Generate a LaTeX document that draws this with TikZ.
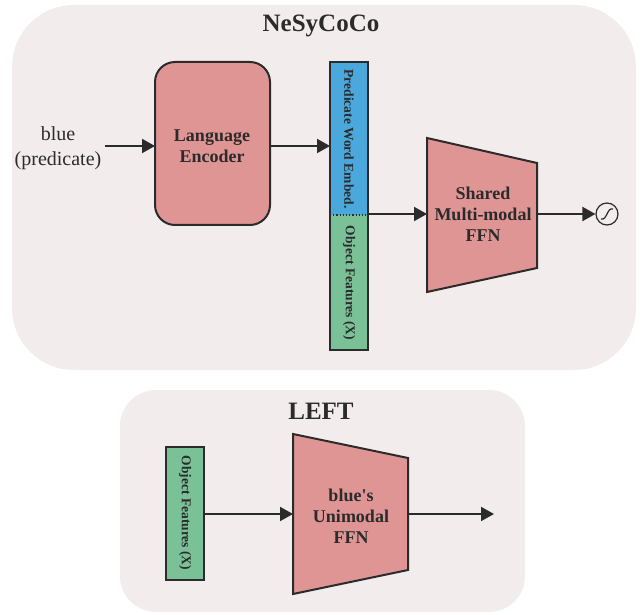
\documentclass[tikz,border=0pt]{standalone}
\usepackage{fontspec}
\setmainfont{Liberation Serif}
\usetikzlibrary{arrows.meta}
\usetikzlibrary{positioning}

\definecolor{panelbg}{HTML}{F2ECEC}
\definecolor{boxred}{HTML}{E09595}
\definecolor{barblue}{HTML}{4BA8DC}
\definecolor{bargreen}{HTML}{7BC197}
\definecolor{linegray}{HTML}{2B2B2B}

\begin{document}
\begin{tikzpicture}[
				x=1pt, y=-1pt,
				panel/.style={fill=panelbg, draw=none},
				block/.style={draw=linegray, line width=2pt, fill=boxred, rounded corners=20pt},
				bar/.style={draw=linegray, line width=2.5pt},
				bartext/.style={rotate=-90, font=\bfseries\fontsize{13.5}{15}\selectfont, text=linegray},
				boxtext/.style={align=center, font=\bfseries\fontsize{18}{21}\selectfont, text=linegray},
				title/.style={font=\bfseries\fontsize{25}{28}\selectfont, text=linegray},
				conn/.style={draw=linegray, line width=2pt, -{Triangle[length=13pt, width=14pt]}}
			]
				\useasboundingbox (0,0) rectangle (641,615);

				% panels
				\fill[panel, rounded corners=62pt] (12,5) rectangle (636,370);
				\fill[panel, rounded corners=36pt] (120,390) rectangle (525,612);
				\node[title] (toptitle) at (321,26) {NeSyCoCo};
				\node[title] (bottitle) at (321,411) {LEFT};

				% NeSyCoCo
				\node[align=center, font=\fontsize{20}{25}\selectfont, text=linegray, inner sep=2pt] (pred) at (58,148) {blue\\(predicate)};
				\coordinate (predout) at (105,146);
				\draw[block] (155,62) rectangle (270,225);
				\node[boxtext] (enc) at (212,146) {Language\\Encoder};
				\coordinate (encin) at (155,146);
				\coordinate (encout) at (270,146);

				\fill[barblue] (330,62) rectangle (368,215);
				\fill[bargreen] (330,215) rectangle (368,350);
				\draw[linegray, line width=1.2pt, dotted] (330,215) -- (368,215);
				\draw[bar] (330,62) rectangle (368,350);
				\node[bartext] (embed) at (349,139) {Predicate Word Embed.};
				\node[bartext] (objfeat) at (349,283) {Object Features (X)};
				\coordinate (barin) at (330,146);
				\coordinate (barout) at (368,214);

				\draw[block, rounded corners=0pt] (427,138) -- (537,163) -- (537,268) -- (427,292) -- cycle;
				\node[boxtext] (shared) at (483,214) {Shared\\Multi-modal\\FFN};
				\coordinate (sharedin) at (427,214);
				\coordinate (sharedout) at (537,214);

				\node[circle, draw=linegray, line width=1.2pt, minimum size=22pt, inner sep=0pt] (sigm) at (607,214) {};
				\draw[linegray, line width=1.2pt] (sigm.center) ++(-6,5) .. controls (607,221) and (607,207) .. (613,209);

				\draw[conn] (predout) -- (encin);
				\draw[conn] (encout) -- (barin);
				\draw[conn] (barout) -- (sharedin);
				\draw[conn] (sharedout) -- (sigm.west);

				% LEFT
				\fill[bargreen] (166,447) rectangle (204,580);
				\draw[bar] (166,447) rectangle (204,580);
				\node[bartext] (leftfeat) at (185,513) {Object Features (X)};
				\coordinate (leftout) at (204,514);
				\draw[block, rounded corners=0pt] (293,434) -- (408,458) -- (408,570) -- (293,594) -- cycle;
				\node[boxtext] (unimodal) at (351,516) {blue\textquotesingle s\\Unimodal\\FFN};
				\coordinate (uniin) at (293,514);
				\coordinate (uniout) at (408,514);
				\coordinate (leftend) at (494,514);

				\draw[conn] (leftout) -- (uniin);
				\draw[conn] (uniout) -- (leftend);
			\end{tikzpicture}
\end{document}
